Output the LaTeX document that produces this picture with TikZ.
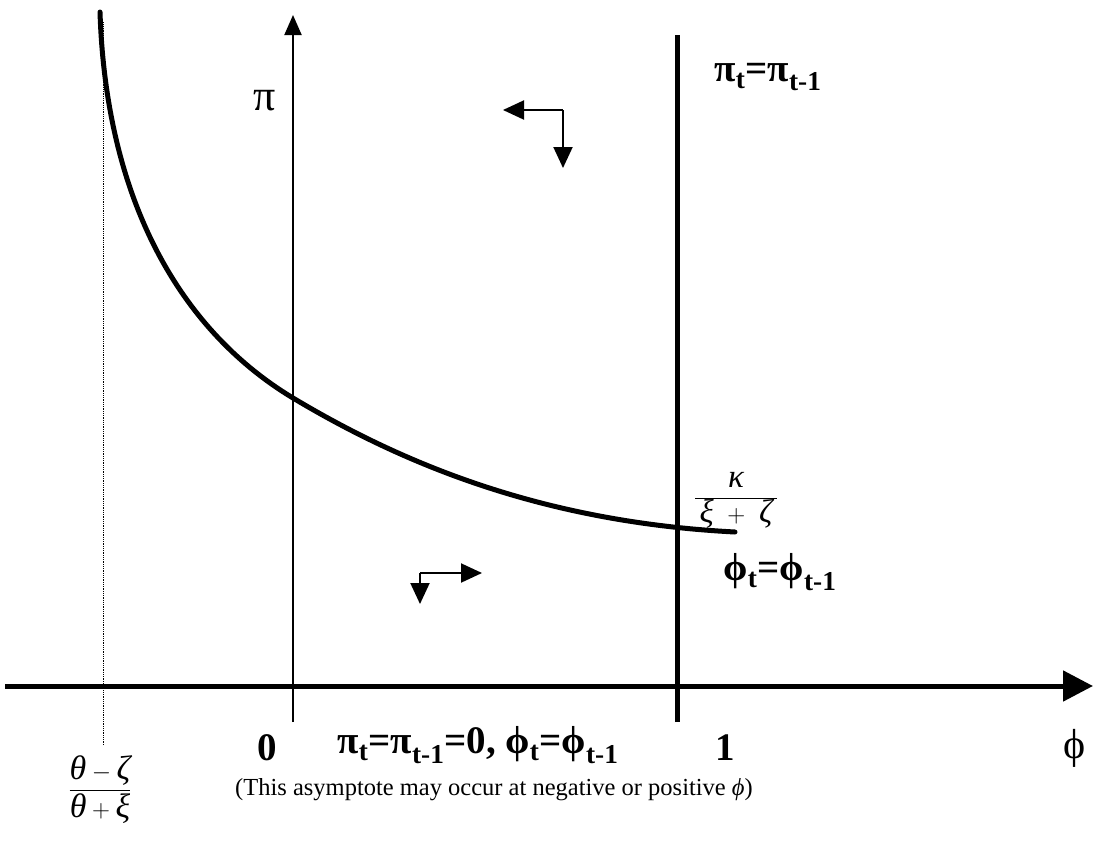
\documentclass[tikz,border=0pt]{standalone}
\usepackage{fontspec}
\setmainfont{Liberation Serif}
\usetikzlibrary{arrows.meta}
\newcommand\grit[1]{\mbox{\itshape #1}}
\tikzset{
  thickline/.style={line width=5pt},
  thinline/.style={line width=2pt},
  smallhead/.style={-{Triangle[length=21pt,width=19pt]}},
  lbl/.style={font=\fontsize{39}{44}\selectfont\bfseries, inner sep=0pt},
}
\begin{document}
\begin{tikzpicture}[x=1pt,y=-1pt]
      \useasboundingbox (0,0) rectangle (1093,846);
      % axes and the two vertical lines
      \coordinate (xl) at (5,686);
      \coordinate (xr) at (1093,686);
      \coordinate (pb) at (293,722);
      \coordinate (pt) at (293,15);
      \coordinate (vb) at (677,722);
      \coordinate (vt) at (677,35);
      \coordinate (ab) at (103,745);
      \coordinate (at0) at (103,22);
      \draw[thickline,-{Triangle[length=30pt,width=30pt]}] (xl) -- (xr);
      \draw[thinline,-{Triangle[length=20pt,width=17pt]}] (pb) -- (pt);
      \draw[thickline] (vb) -- (vt);
      \draw[line width=0.8pt,densely dotted] (ab) -- (at0);
      % the curve
      \coordinate (ctop) at (100,12);
      \coordinate (cmid) at (293,398);
      \coordinate (cend) at (735,532);
      \draw[thickline,line cap=round] (ctop) .. controls (106,200) and (180,330) .. (cmid)
        .. controls (400,462) and (540,522) .. (cend);
      % direction arrows
      \coordinate (c1) at (563,110);
      \coordinate (c1l) at (503,110);
      \coordinate (c1d) at (563,168);
      \draw[thinline,smallhead] (c1) -- (c1l);
      \draw[thinline,smallhead] (c1) -- (c1d);
      \coordinate (c2) at (420,573);
      \coordinate (c2r) at (482,573);
      \coordinate (c2d) at (420,604);
      \draw[thinline,smallhead] (c2) -- (c2r);
      \draw[thinline,smallhead] (c2) -- (c2d);
      % labels
      \node[lbl,font=\fontsize{44}{48}\selectfont] (pilab) at (265,101) {π};
      \node[lbl] (pieq) at (768,77) {π\textsubscript{t}=π\textsubscript{t-1}};
      \node[inner sep=0pt,font=\fontsize{33}{38}\selectfont] (kfrac) at (736,500)
        {$\displaystyle\frac{\grit{κ}\rule[-6pt]{0pt}{1pt}}{\,\grit{ξ}\ +\ \grit{ζ}\,}$};
      \node[lbl] (phieq) at (780,572) {ϕ\textsubscript{t}=ϕ\textsubscript{t-1}};
      \node[lbl] (zero) at (267,748) {0};
      \node[lbl] (one) at (725,748) {1};
      \node[lbl,font=\fontsize{42}{46}\selectfont] (philab) at (1075,748) {ϕ};
      \node[lbl] (bothz) at (478,745)
        {π\textsubscript{t}=π\textsubscript{t-1}=0, ϕ\textsubscript{t}=ϕ\textsubscript{t-1}};
      \node[inner sep=0pt,font=\fontsize{34}{38}\selectfont] (afrac) at (100,790)
        {$\displaystyle\frac{\grit{θ}-\grit{ζ}}{\rule{0pt}{26pt}\grit{θ}+\grit{ξ}}$};
      \node[inner sep=0pt,anchor=west,font=\fontsize{24.5}{28}\selectfont] (note) at (235,790)
        {(This asymptote may occur at negative or positive \grit{ϕ})};
    \end{tikzpicture}
\end{document}
